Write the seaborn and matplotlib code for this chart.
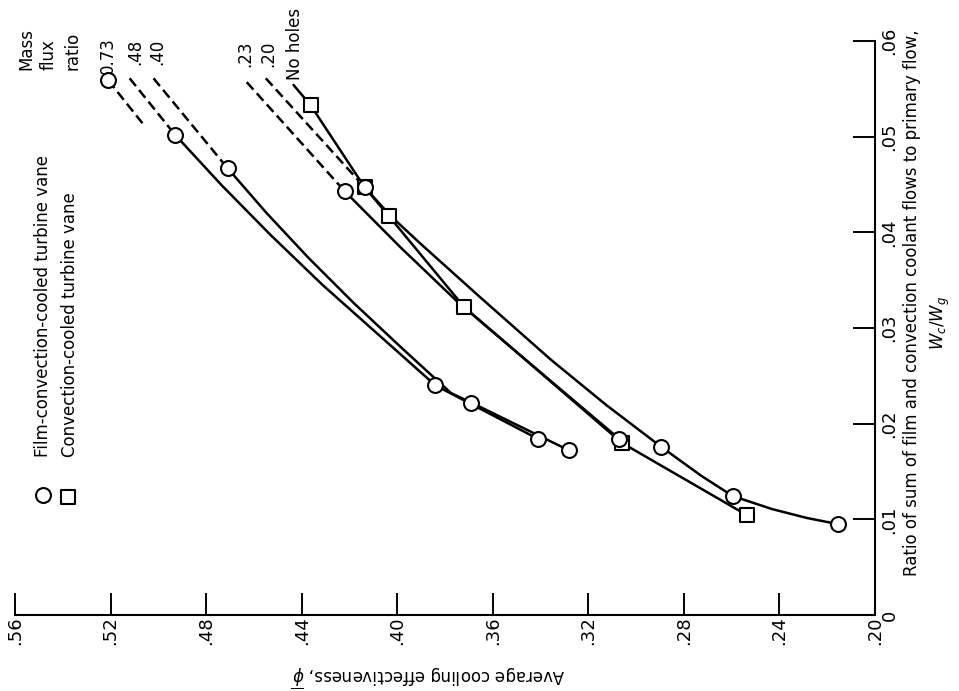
import matplotlib
matplotlib.use('Agg')
import matplotlib.pyplot as plt
import seaborn as sns

# values read off the (rotated) figure: eff = average cooling effectiveness, w = Wc/Wg
# film-convection-cooled vane, mass flux ratio 0.73 (one point + dashed extension)
eff_073 = [0.521]
w_073 = [0.0559]
eff_073_dash = [0.521, 0.506]
w_073_dash = [0.0559, 0.0512]

# mass flux ratio .48
eff_048 = [0.493, 0.384, 0.341]
w_048 = [0.0502, 0.0240, 0.0184]
eff_048_line = [0.493, 0.4736, 0.4530, 0.4312, 0.4077, 0.384, 0.341]
w_048_line = [0.0502, 0.04495, 0.03972, 0.03449, 0.02927, 0.0240, 0.0184]
eff_048_dash = [0.512, 0.493]
w_048_dash = [0.0561, 0.0502]

# mass flux ratio .40
eff_040 = [0.471, 0.369, 0.328]
w_040 = [0.0467, 0.0222, 0.0172]
eff_040_line = [0.471, 0.4547, 0.4371, 0.4182, 0.3981, 0.3775, 0.369, 0.328]
w_040_line = [0.0467, 0.04202, 0.03732, 0.03261, 0.02791, 0.0232, 0.0222, 0.0172]
eff_040_dash = [0.502, 0.471]
w_040_dash = [0.0561, 0.0467]

# mass flux ratio .23
eff_023 = [0.422, 0.307]
w_023 = [0.0443, 0.0184]
eff_023_line = [0.422, 0.3985, 0.3746, 0.3364, 0.307]
w_023_line = [0.0443, 0.0384, 0.0327, 0.0246, 0.0184]
eff_023_dash = [0.463, 0.422]
w_023_dash = [0.0557, 0.0443]

# mass flux ratio .20
eff_020 = [0.4136, 0.2894, 0.2596, 0.2155]
w_020 = [0.0447, 0.01756, 0.01244, 0.0095]
eff_020_line = [0.4136, 0.4027, 0.3901, 0.3649, 0.3355, 0.3125, 0.2894, 0.2726, 0.2596,
                0.2432, 0.2285, 0.2155]
w_020_line = [0.0447, 0.0417, 0.03878, 0.03313, 0.02665, 0.02195, 0.01756, 0.01453, 0.01244,
              0.01108, 0.01014, 0.0095]
eff_020_dash = [0.455, 0.4136]
w_020_dash = [0.0561, 0.0447]

# convection-cooled vane, no holes
eff_noh = [0.4363, 0.4136, 0.4035, 0.372, 0.306, 0.2537]
w_noh = [0.0533, 0.0447, 0.0417, 0.0322, 0.0180, 0.01045]
eff_noh_lead = [0.4434, 0.4363]
w_noh_lead = [0.0554, 0.0533]

eff_ticks = [0.56, 0.52, 0.48, 0.44, 0.40, 0.36, 0.32, 0.28, 0.24, 0.20]
eff_tick_labels = ['.56', '.52', '.48', '.44', '.40', '.36', '.32', '.28', '.24', '.20']
w_ticks = [0, 0.01, 0.02, 0.03, 0.04, 0.05, 0.06]
w_tick_labels = ['0', '.01', '.02', '.03', '.04', '.05', '.06']

curve_labels = ['0.73', '.48', '.40', '.23', '.20', 'No holes']
curve_label_eff = [0.5212, 0.5097, 0.5003, 0.4635, 0.4541, 0.4426]
curve_label_w = [0.0565, 0.0575, 0.0575, 0.0573, 0.0573, 0.0559]

sns.set_theme(style='ticks')
plt.rcParams['font.family'] = ['DejaVu Sans']
plt.rcParams['mathtext.fontset'] = 'dejavusans'
plt.rcParams.update({'text.color': 'black', 'axes.labelcolor': 'black', 'xtick.color': 'black',
                     'ytick.color': 'black', 'axes.edgecolor': 'black'})

fig = plt.figure(figsize=(9.59, 6.91), dpi=100)
ax = fig.add_axes([15 / 959, 76 / 691, 860 / 959, 574 / 691])

lw = 1.8
dash = (0, (4, 2))

for e, w in [(eff_048_line, w_048_line), (eff_040_line, w_040_line),
             (eff_023_line, w_023_line), (eff_020_line, w_020_line),
             (eff_noh, w_noh), (eff_noh_lead, w_noh_lead)]:
    sns.lineplot(x=e, y=w, sort=False, estimator=None, color='black', lw=lw, ax=ax)

for e, w in [(eff_073_dash, w_073_dash), (eff_048_dash, w_048_dash), (eff_040_dash, w_040_dash),
             (eff_023_dash, w_023_dash), (eff_020_dash, w_020_dash)]:
    sns.lineplot(x=e, y=w, sort=False, estimator=None, color='black', lw=lw, linestyle=dash, ax=ax)

# squares first, circles on top
sns.scatterplot(x=eff_noh, y=w_noh, marker='s', s=100, facecolor='white', edgecolor='black',
                linewidth=1.5, zorder=3, ax=ax)
for e, w in [(eff_073, w_073), (eff_048, w_048), (eff_040, w_040), (eff_023, w_023), (eff_020, w_020)]:
    sns.scatterplot(x=e, y=w, marker='o', s=115, facecolor='white', edgecolor='black',
                    linewidth=1.5, zorder=4, ax=ax)

for lab, e, w in zip(curve_labels, curve_label_eff, curve_label_w):
    ax.text(e, w, lab, rotation=90, ha='center', va='bottom', fontsize=12)

for lab, e in zip(['Mass', 'flux', 'ratio'], [0.5554, 0.5458, 0.5361]):
    ax.text(e, 0.0570, lab, rotation=90, ha='center', va='bottom', fontsize=12)

# legend drawn by hand, as in the original
sns.scatterplot(x=[0.5483], y=[0.01254], marker='o', s=115, facecolor='white', edgecolor='black',
                linewidth=1.5, ax=ax, clip_on=False)
sns.scatterplot(x=[0.5378], y=[0.0123], marker='s', s=100, facecolor='white', edgecolor='black',
                linewidth=1.5, ax=ax, clip_on=False)
ax.text(0.5483, 0.0165, 'Film-convection-cooled turbine vane', rotation=90, ha='center', va='bottom', fontsize=12)
ax.text(0.5370, 0.0165, 'Convection-cooled turbine vane', rotation=90, ha='center', va='bottom', fontsize=12)

ax.set_xlim(0.56, 0.20)
ax.set_ylim(0, 0.06)
ax.set_xticks(eff_ticks)
ax.set_xticklabels(eff_tick_labels, rotation=90)
ax.yaxis.tick_right()
ax.yaxis.set_label_position('right')
ax.set_yticks(w_ticks)
ax.set_yticklabels(w_tick_labels, rotation=90, va='center')

ax.spines['top'].set_visible(False)
ax.spines['left'].set_visible(False)
ax.spines['bottom'].set_linewidth(1.5)
ax.spines['right'].set_linewidth(1.5)
ax.tick_params(axis='x', direction='in', length=16, width=1.4, pad=1, labelsize=13,
               bottom=True, top=False, colors='black')
ax.tick_params(axis='y', direction='in', length=16, width=1.4, pad=4, labelsize=13,
               right=True, left=False, labelright=True, labelleft=False, colors='black')

ax.set_xlabel('Average cooling effectiveness, $\\overline{\\phi}$', rotation=180, fontsize=12)
ax.xaxis.set_label_coords(0.48, -0.084)
ax.set_ylabel('Ratio of sum of film and convection coolant flows to primary flow,', rotation=90, fontsize=12)
ax.yaxis.set_label_coords(1.0326, 0.5436)
ax.text(1.0756, 0.5087, '$W_c/W_g$', rotation=90, ha='center', va='center', fontsize=12,
        transform=ax.transAxes)

fig.savefig('out.png', dpi=100)
